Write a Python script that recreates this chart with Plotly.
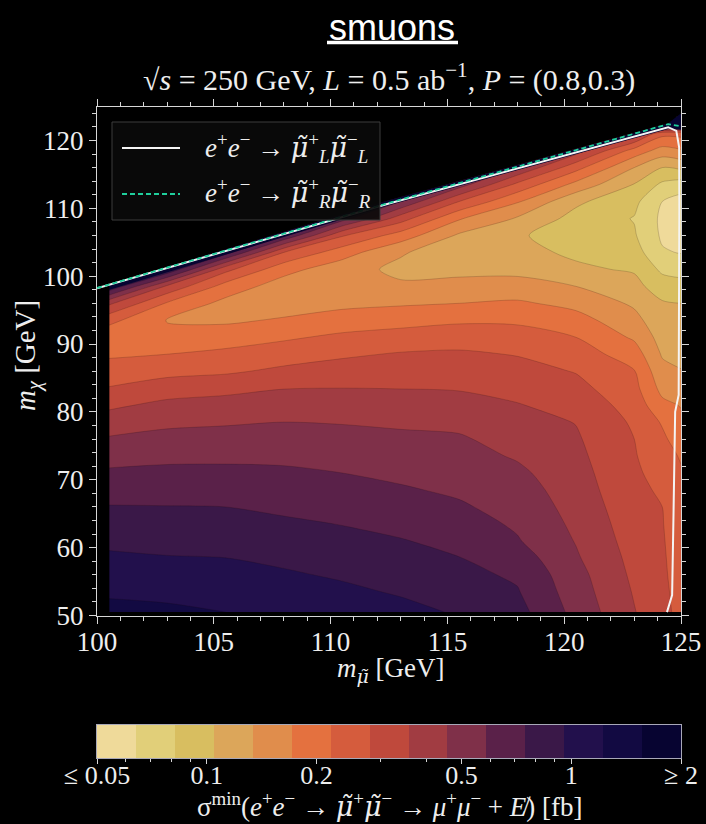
import numpy as np
import plotly.graph_objects as go

# ---------------- data ----------------
# grid nodes
m_smuon = [100.5, 103, 105.5, 108, 110.5, 113, 115.5, 118, 120.5, 123, 124.2, 125]
m_chi = [50.5, 53.5, 56, 58.5, 61, 63.5, 66, 68.5, 71, 73.5, 76, 78.5, 81, 83.5, 86,
         88.5, 91, 93.5, 96, 98.5, 101, 103.5, 106, 108.5, 111, 113.5, 116, 118.5, 121, 123.5]

# filled-contour band read at each node (0 = <=0.05 fb ... 15 = >=2 fb), one list per m_smuon column
band_100p5 = [13.3, 12.85, 12.5, 12.15, 11.8, 11.4, 11.05, 10.6, 10.15, 9.65, 9.1, 8.5, 7.8, 7.05, 6.45,
              5.85, 5.3, 6.3, 8.2, 12.0, 15.5, 15.5, 15.5, 15.5, 15.5, 15.5, 15.5, 15.5, 15.5, 15.5]
band_103 = [13.2, 12.75, 12.4, 12.05, 11.7, 11.4, 11.03, 10.6, 10.2, 9.8, 9.3, 8.8, 8.25, 7.5, 6.7,
            6.0, 5.3, 4.95, 5.9, 7.8, 12.0, 15.5, 15.5, 15.5, 15.5, 15.5, 15.5, 15.5, 15.5, 15.5]
band_105p5 = [13.0, 12.65, 12.33, 12.0, 11.7, 11.38, 11.0, 10.6, 10.22, 9.8, 9.35, 8.9, 8.4, 7.7, 6.85,
              6.25, 5.5, 4.85, 4.7, 5.6, 7.3, 11.5, 15.5, 15.5, 15.5, 15.5, 15.5, 15.5, 15.5, 15.5]
band_108 = [12.8, 12.45, 12.12, 11.8, 11.5, 11.17, 10.8, 10.5, 10.15, 9.8, 9.4, 9.0, 8.5, 7.97, 7.2,
            6.55, 5.85, 5.1, 4.55, 4.5, 5.35, 7.0, 11.0, 15.5, 15.5, 15.5, 15.5, 15.5, 15.5, 15.5]
band_110p5 = [12.55, 12.2, 11.88, 11.58, 11.28, 10.97, 10.65, 10.32, 10.0, 9.65, 9.3, 8.95, 8.45, 8.0, 7.43,
              6.85, 6.2, 5.45, 4.75, 4.15, 4.4, 5.45, 7.1, 10.5, 15.5, 15.5, 15.5, 15.5, 15.5, 15.5]
band_113 = [12.3, 11.9, 11.6, 11.3, 11.05, 10.75, 10.43, 10.1, 9.8, 9.5, 9.2, 8.85, 8.42, 7.98, 7.53,
            7.08, 6.4, 5.65, 4.88, 4.15, 3.77, 4.1, 5.55, 7.45, 10.0, 15.5, 15.5, 15.5, 15.5, 15.5]
band_115p5 = [11.9, 11.55, 11.27, 11.02, 10.75, 10.45, 10.12, 9.85, 9.6, 9.35, 9.12, 8.75, 8.35, 7.93, 7.55,
              7.15, 6.55, 5.85, 5.0, 4.3, 3.75, 3.42, 3.85, 5.1, 7.0, 9.5, 15.5, 15.5, 15.5, 15.5]
band_118 = [11.35, 11.07, 10.85, 10.5, 10.08, 9.85, 9.65, 9.45, 9.2, 8.9, 8.6, 8.35, 8.05, 7.7, 7.35,
            6.95, 6.4, 5.85, 5.15, 4.35, 3.75, 3.25, 3.1, 3.9, 5.1, 6.75, 9.0, 15.5, 15.5, 15.5]
band_120p5 = [9.7, 9.5, 9.35, 9.12, 8.95, 8.8, 8.65, 8.5, 8.38, 8.25, 8.12, 7.97, 7.65, 7.3, 6.95,
              6.5, 6.0, 5.4, 4.7, 4.0, 3.15, 2.85, 2.6, 2.65, 3.2, 4.7, 6.35, 8.5, 15.5, 15.5]
band_123 = [8.05, 7.92, 7.8, 7.7, 7.58, 7.47, 7.36, 7.26, 7.16, 7.07, 7.0, 6.85, 6.6, 6.3, 6.05,
            5.5, 4.85, 4.3, 3.85, 3.3, 2.9, 2.45, 2.1, 1.95, 2.25, 2.95, 4.0, 5.6, 8.5, 15.5]
band_124p2 = [7.3, 7.25, 7.2, 7.15, 7.1, 7.05, 7.0, 6.85, 6.65, 6.45, 6.2, 5.9, 5.25, 4.7, 4.3,
              3.9, 3.6, 3.35, 3.1, 2.5, 1.8, 1.1, 0.85, 0.8, 1.0, 1.8, 3.0, 4.6, 6.3, 15.5]
band_125 = [6.7, 6.6, 6.5, 6.45, 6.4, 6.35, 6.3, 6.2, 6.1, 5.9, 5.5, 5.2, 4.95, 4.6, 4.05,
            3.7, 3.4, 3.2, 3.0, 2.3, 1.7, 0.95, 0.5, 0.4, 0.6, 1.5, 3.2, 4.9, 6.3, 15.5]

# colorbar levels [fb] and tick labels
band_edges_fb = [0.05, 0.0639, 0.0818, 0.1046, 0.1337, 0.171, 0.2187, 0.2797, 0.3577,
                 0.4574, 0.585, 0.748, 0.957, 1.224, 1.565, 2.0]
cbar_tickvals = [0.05, 0.1, 0.2, 0.5, 1, 2]
cbar_ticktext = ['≤ 0.05', '0.1', '0.2', '0.5', '1', '≥ 2']
cbar_minor = [0.06, 0.07, 0.08, 0.09, 0.3, 0.4, 0.6, 0.7, 0.8, 0.9]

# boundary curves
L_x = [100, 112.5, 124.45, 124.8, 124.92, 124.93, 124.9, 124.75, 124.68, 124.62, 124.4]
L_y = [98.2, 110.7, 121.95, 121.4, 119.0, 110.0, 82.5, 80.0, 65.0, 53.0, 50.5]
R_x = [100, 112.5, 124.45, 124.9]
R_y = [98.25, 110.8, 122.4, 122.15]
# dark edge band just above the kinematic boundary, and the empty regions around the scanned area
edge_x = [100.5, 112.5, 124.45, 125.3, 125.3, 124.95, 124.45, 112.5, 100.5]
edge_y = [97.95, 110.45, 121.7, 121.5, 123.9, 123.9, 122.5, 111.2, 98.7]
mask_x = [100.45, 112.5, 124.45, 124.95, 125.3, 125.3, 100.45]
mask_y = [98.7, 111.2, 122.5, 123.9, 123.9, 126.5, 126.5]
frame_x = [99.0, 126.0, 126.0, 100.53, 100.53, 99.0]
frame_y = [40.0, 40.0, 50.52, 50.52, 99.0, 99.0]

colors15 = ['#efda9a', '#e1cf79', '#d8be60', '#dca65a', '#e08d4c', '#e4713f', '#d55c3d', '#bf493c',
            '#a13c42', '#7f3049', '#5a2149', '#3a1848', '#22104c', '#120a42', '#070431']

# ---------------- figure ----------------
W, H = 706, 824
def px(x):
    return x / W
def py(y):
    return 1 - y / H

# contour: levels 0..14 -> background (<0, never reached) + 15 bands
contour_scale = [[0, '#000000']] + [[(k + 1) / 15, c] for k, c in enumerate(colors15)]
bar_scale = [[k / 14, c] for k, c in enumerate(colors15)]
z = np.array([band_100p5, band_103, band_105p5, band_108, band_110p5, band_113, band_115p5,
              band_118, band_120p5, band_123, band_124p2, band_125]).T

SERIF = 'Liberation Serif'
TXT = '#eeeeee'
AX = '#d6d6d6'
MU = "<span style='font-family:DejaVu Serif'><i>μ̃</i></span>"

fig = go.Figure()
fig.add_trace(go.Contour(
    x=m_smuon, y=m_chi, z=z, colorscale=contour_scale, showscale=False, autocontour=False,
    contours=dict(start=0, end=14, size=1, coloring='fill', showlines=True),
    line=dict(width=0.6, color='rgba(30,10,10,0.3)', smoothing=0.8),
    hoverinfo='skip'))
fig.add_trace(go.Scatter(x=edge_x, y=edge_y, mode='lines', fill='toself', fillcolor=colors15[-1],
                         line=dict(width=0, color=colors15[-1]), hoverinfo='skip', showlegend=False))
for mx, my in ((mask_x, mask_y), (frame_x, frame_y)):
    fig.add_trace(go.Scatter(x=mx, y=my, mode='lines', fill='toself', fillcolor='black',
                             line=dict(width=0, color='black'), hoverinfo='skip', showlegend=False))
fig.add_trace(go.Scatter(x=L_x, y=L_y, mode='lines', name='L', line=dict(color='#f4f4f4', width=2),
                         showlegend=False))
fig.add_trace(go.Scatter(x=R_x, y=R_y, mode='lines', name='R',
                         line=dict(color='#1fcf9c', width=1.8, dash='5px,3px'), showlegend=False))

# colorbar as heatmap
fig.add_trace(go.Heatmap(x=band_edges_fb, y=[0, 1], z=[list(range(15))], colorscale=bar_scale,
                         zmin=0, zmax=14, showscale=False, xaxis='x2', yaxis='y2', hoverinfo='skip'))

xdom = [px(97), px(681)]
tickfont = dict(family=SERIF, size=27, color=TXT)
fig.update_layout(
    width=W, height=H, margin=dict(l=0, r=0, t=0, b=0, pad=0, autoexpand=False),
    paper_bgcolor='black', plot_bgcolor='black', showlegend=False,
    xaxis=dict(domain=xdom, range=[100, 125], anchor='y', tickmode='linear', tick0=100, dtick=5,
               ticks='outside', ticklen=7, tickwidth=1, tickcolor=AX, automargin=False,
               ticklabelstandoff=-5,
               minor=dict(tickmode='linear', tick0=100, dtick=1, ticks='outside', ticklen=4, tickcolor=AX),
               showline=True, linecolor=AX, linewidth=1, mirror='allticks', showgrid=False,
               zeroline=False, tickfont=tickfont),
    yaxis=dict(domain=[py(615.5), py(106.5)], range=[50, 125], anchor='x', tickmode='linear', tick0=50,
               dtick=10, ticks='outside', ticklen=7, tickwidth=1, tickcolor=AX, automargin=False,
               minor=dict(tickmode='linear', tick0=50, dtick=2, ticks='outside', ticklen=4, tickcolor=AX),
               showline=True, linecolor=AX, linewidth=1, mirror='allticks', showgrid=False,
               zeroline=False, tickfont=tickfont),
    xaxis2=dict(domain=xdom, anchor='y2', type='log', range=[np.log10(0.05), np.log10(2)],
                tickmode='array', tickvals=cbar_tickvals, ticktext=cbar_ticktext, automargin=False,
                ticks='outside', ticklen=5, tickcolor=AX, ticklabelstandoff=-11,
                minor=dict(tickmode='array', tickvals=cbar_minor, ticks='outside', ticklen=3, tickcolor=AX),
                showline=True, linecolor='#a8a8b8', mirror=True, showgrid=False, zeroline=False,
                tickfont=dict(family=SERIF, size=26, color=TXT)),
    yaxis2=dict(domain=[py(758), py(725)], anchor='x2', range=[0, 1], showticklabels=False, automargin=False,
                ticks='', showline=True, linecolor='#a8a8b8', mirror=True, showgrid=False, zeroline=False),
)

def note(text, x, y, size, family=SERIF, xanchor='center', angle=0, color=TXT):
    return dict(text=text, x=px(x), y=py(y), xref='paper', yref='paper', showarrow=False,
                xanchor=xanchor, yanchor='middle', textangle=angle,
                font=dict(family=family, size=size, color=color))

ann = [
    note('smuons', 392, 27, 36, family='Liberation Sans', color='white'),
    note('√<i>s</i> = 250 GeV, <i>L</i> = 0.5 ab<sup>−1</sup>, <i>P</i> = (0.8,0.3)', 389, 77, 30),
    note('<i>m</i><sub>' + MU + '</sub> [GeV]', 391, 670, 27),
    note('<i>m</i><sub><i>χ</i></sub> [GeV]', 27, 356, 29, angle=-90),
    note('σ<sup>min</sup>(<i>e</i><sup>+</sup><i>e</i><sup>−</sup> → ' + MU + '<sup>+</sup>' + MU +
         '<sup>−</sup> → <i>μ</i><sup>+</sup><i>μ</i><sup>−</sup> + <i>E̸</i>) [fb]',
         390, 805, 27),
    note('<i>e</i><sup>+</sup><i>e</i><sup>−</sup> → ' + MU + '<sup>+</sup><sub><i>L</i></sub>' + MU +
         '<sup>−</sup><sub><i>L</i></sub>', 203, 148, 27, xanchor='left'),
    note('<i>e</i><sup>+</sup><i>e</i><sup>−</sup> → ' + MU + '<sup>+</sup><sub><i>R</i></sub>' + MU +
         '<sup>−</sup><sub><i>R</i></sub>', 203, 193, 27, xanchor='left'),
]
fig.update_layout(annotations=ann)

shapes = [
    dict(type='line', xref='paper', yref='paper', x0=px(327), x1=px(458), y0=py(42.5), y1=py(42.5),
         line=dict(color='white', width=3.5)),
    dict(type='rect', xref='paper', yref='paper', x0=px(112), x1=px(380), y0=py(220), y1=py(122),
         fillcolor='rgba(10,10,10,0.92)', line=dict(color='#3c3c3c', width=1), layer='above'),
    dict(type='line', xref='paper', yref='paper', x0=px(122), x1=px(180), y0=py(148), y1=py(148),
         line=dict(color='#f4f4f4', width=2)),
    dict(type='line', xref='paper', yref='paper', x0=px(122), x1=px(180), y0=py(194), y1=py(194),
         line=dict(color='#1fcf9c', width=1.8, dash='5px,3px')),
]
fig.update_layout(shapes=shapes)

fig.write_html('out.html')
